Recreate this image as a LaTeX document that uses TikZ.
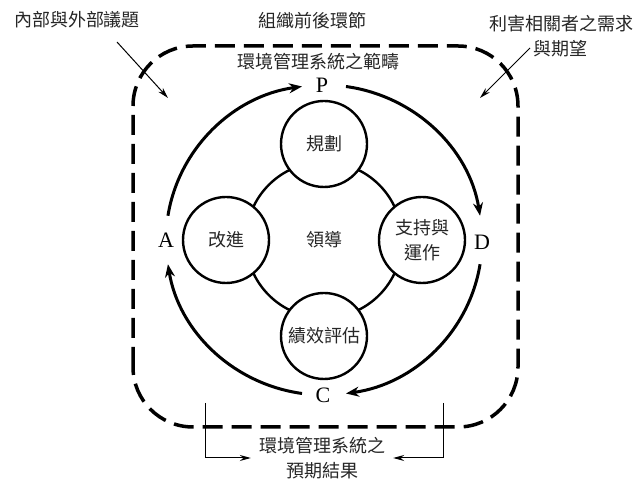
\documentclass[tikz,border=0pt]{standalone}
\usepackage{fontspec}
\newfontfamily\cjk{Noto Sans CJK TC}
\newfontfamily\lat{Liberation Serif}
\usetikzlibrary{arrows.meta}
\begin{document}
\begin{tikzpicture}[x=1pt,y=1pt,
  txt/.style={font=\cjk\fontsize{18}{25}\selectfont, text=black!85, inner sep=0pt, align=center},
  ltr/.style={font=\lat\fontsize{22}{22}\selectfont, inner sep=0pt},
  ring/.style={draw, line width=2.4pt, circle, inner sep=0pt},
  smallc/.style={ring, fill=white, minimum size=86pt, txt},
  cyc/.style={line width=3pt, -{Stealth[length=13pt,width=10pt]}},
  thinarrow/.style={line width=1pt, -{Stealth[length=11pt,width=6pt]}},
  border/.style={line width=3.5pt, dash pattern=on 20pt off 9pt, rounded corners=60pt}]
\useasboundingbox (0,0) rectangle (638,481);
\coordinate (ctr) at (324,241);
% dashed scope border
\coordinate (bb1) at (133,54);
\coordinate (bb2) at (518,435);
\draw[border] (bb1) rectangle (bb2);
% central circle and four stages
\node[ring, minimum size=156pt, txt] (lead) at (ctr) {領導};
\node[smallc] (plan) at (324,337) {規劃};
\node[smallc] (improve) at (226,241) {改進};
\node[smallc] (support) at (422,241) {支持與\\運作};
\node[smallc] (eval) at (324,145) {績效評估};
% PDCA letters
\node[ltr] (P) at (322,396) {P};
\node[ltr] (D) at (482,239) {D};
\node[ltr] (C) at (323,86) {C};
\node[ltr] (A) at (166,241) {A};
% cycle arcs
\draw[cyc] (ctr) ++(171:158pt and 155pt) arc[start angle=171, end angle=98, x radius=158pt, y radius=155pt];
\draw[cyc] (ctr) ++(82:158pt and 155pt) arc[start angle=82, end angle=9, x radius=158pt, y radius=155pt];
\draw[cyc] (ctr) ++(-9:158pt and 155pt) arc[start angle=-9, end angle=-82, x radius=158pt, y radius=155pt];
\draw[cyc] (ctr) ++(-98:158pt and 155pt) arc[start angle=-98, end angle=-171, x radius=158pt, y radius=155pt];
% texts
\node[txt] (issues) at (77,461) {內部與外部議題};
\node[txt] (context) at (312,460) {組織前後環節};
\node[txt] (scope) at (318,419) {環境管理系統之範疇};
\node[txt] (needs) at (561,457) {利害相關者之需求};
\node[txt] (expect) at (560,432) {與期望};
\node[txt, inner xsep=8pt] (result) at (322,23) {環境管理系統之\\預期結果};
% input arrows
\coordinate (inL) at (117,439);
\coordinate (inLend) at (168,383);
\draw[thinarrow] (inL) -- (inLend);
\coordinate (inR) at (530,433);
\coordinate (inRend) at (480,383);
\draw[thinarrow] (inR) -- (inRend);
% output arrows
\coordinate (bl) at (205,78);
\coordinate (br) at (443,78);
\draw[thinarrow] (bl) |- (result.west);
\draw[thinarrow] (br) |- (result.east);
\end{tikzpicture}
\end{document}
